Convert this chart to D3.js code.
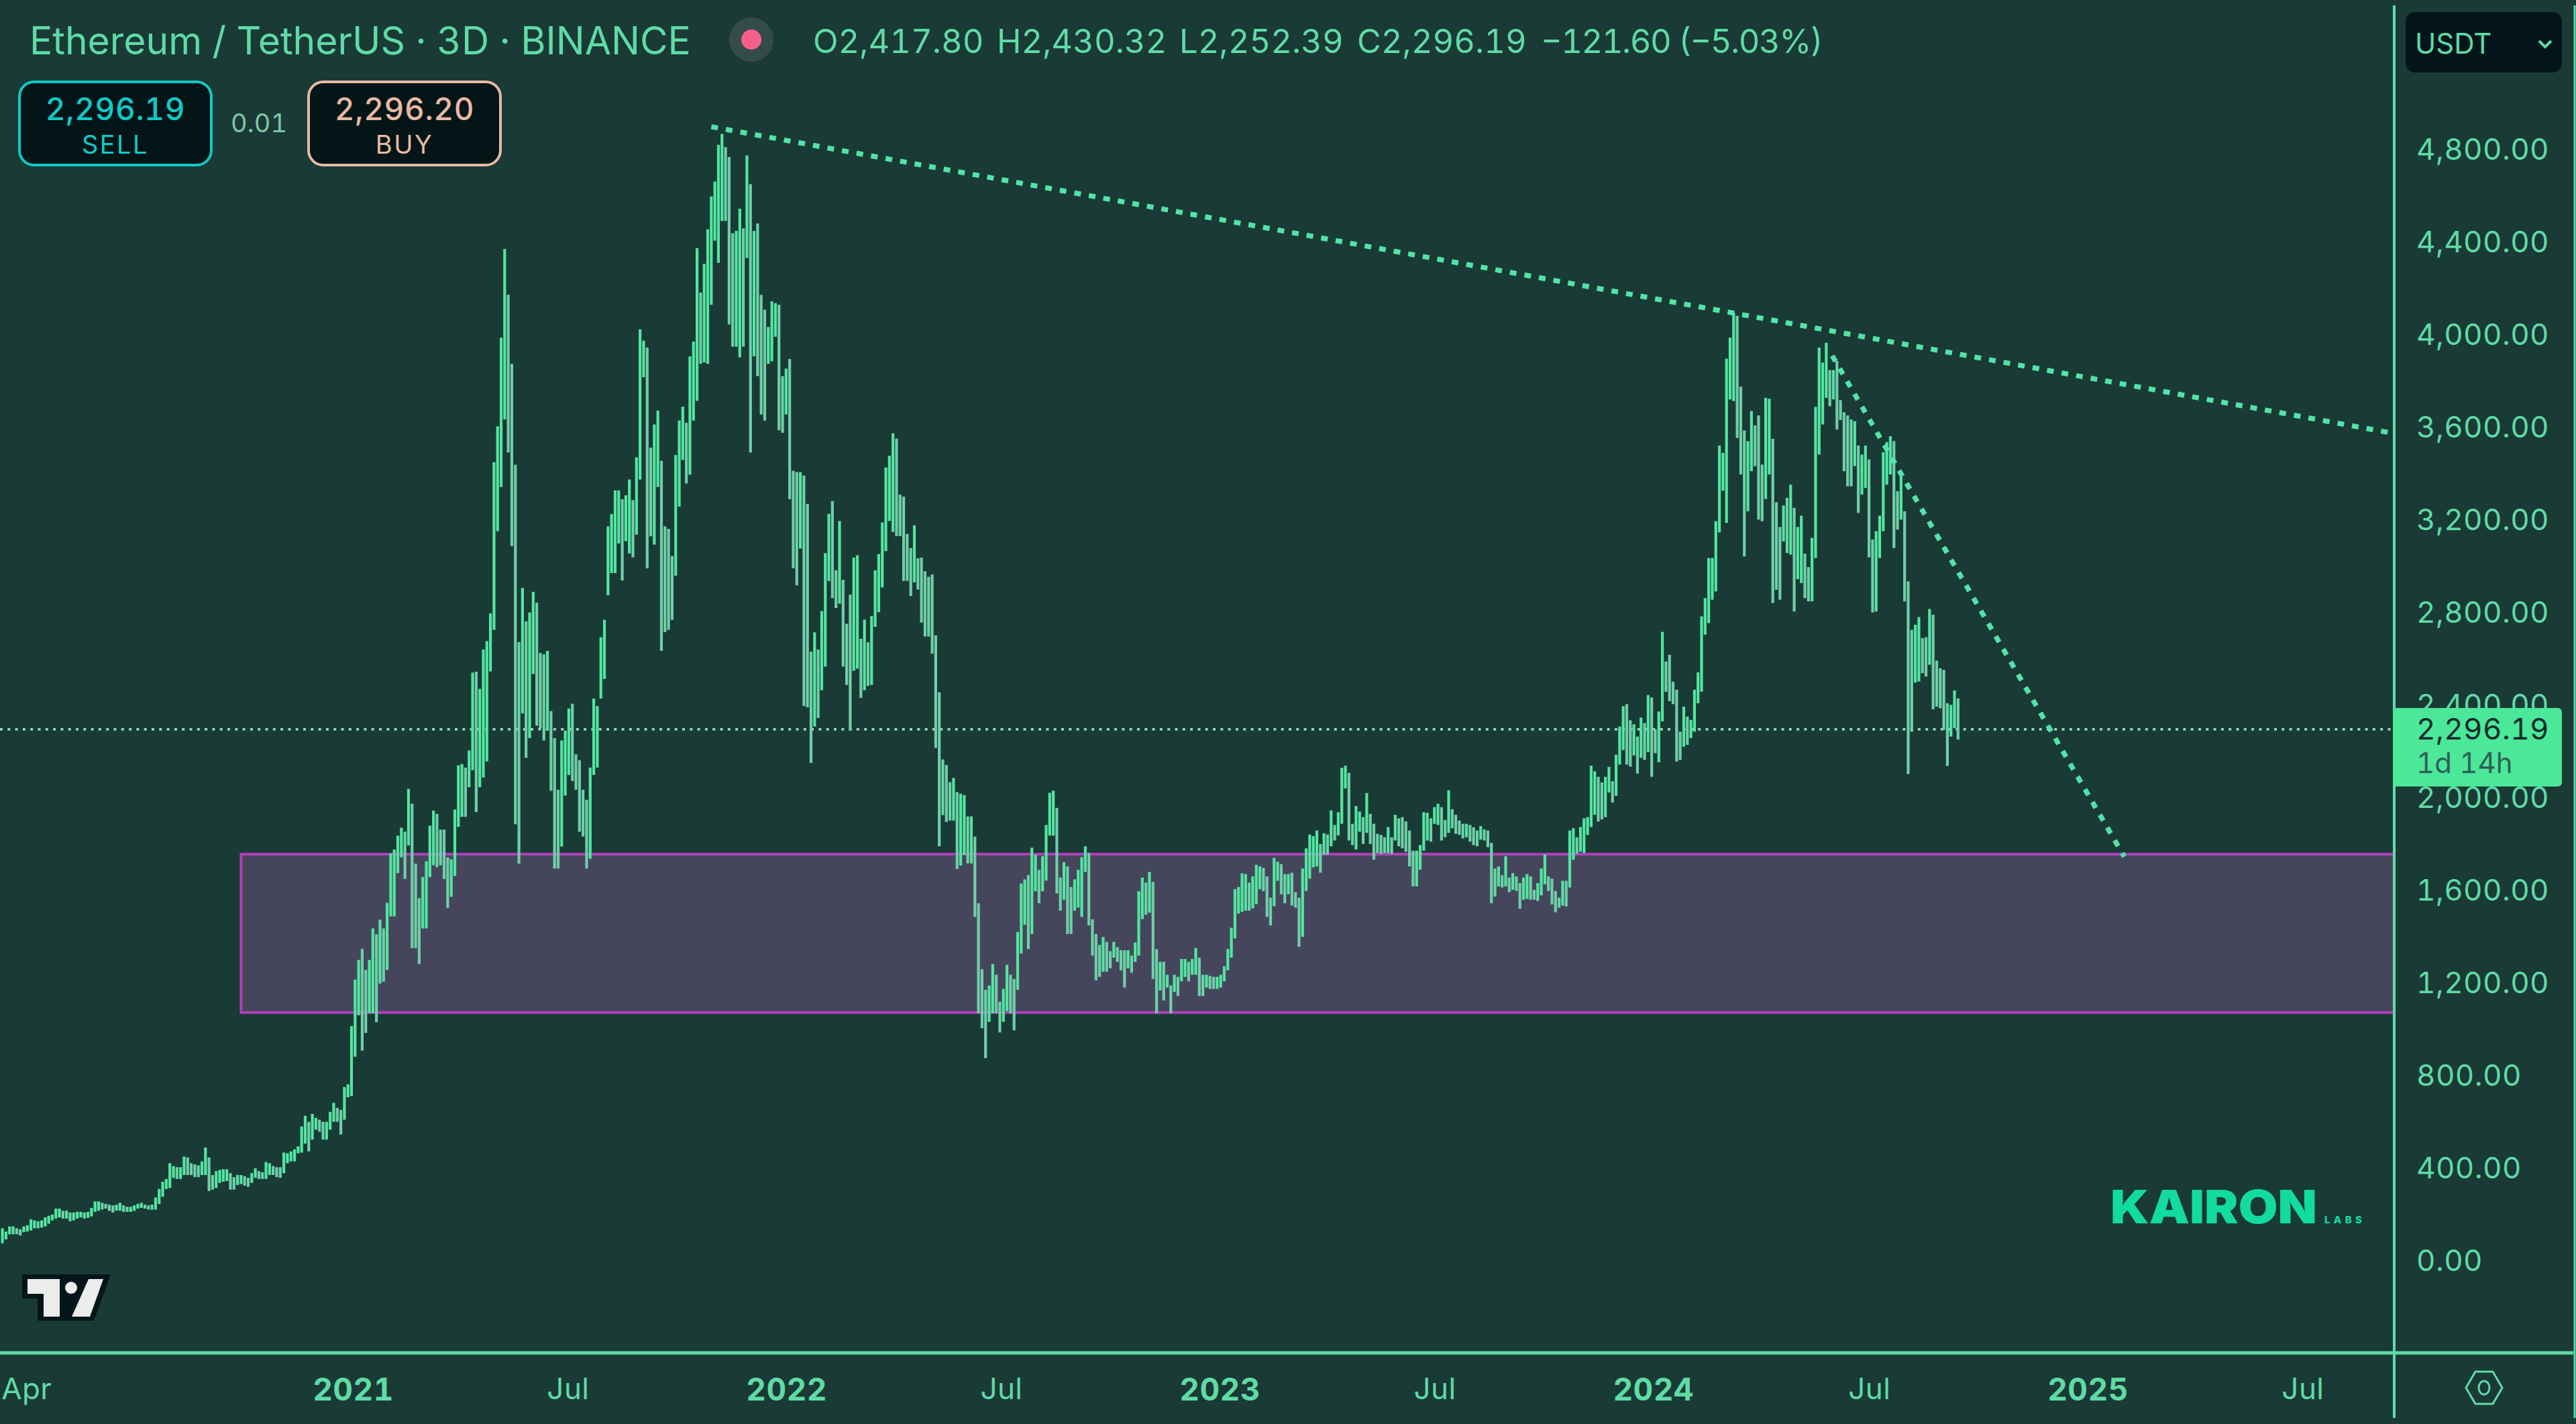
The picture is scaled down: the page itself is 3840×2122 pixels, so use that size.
<!DOCTYPE html>
<html lang="en">
<head>
  <meta charset="UTF-8">
  <title>Ethereum / TetherUS 3D</title>
  <style>
    html, body { margin: 0; padding: 0; background: #1a3a36; }
    svg { display: block; }
    text { font-family: "Inter", sans-serif; fill: #5fdba6; font-variant-numeric: tabular-nums; }
    .axis text { font-size: 44px; letter-spacing: 0.4px; }
    .axis .domain { display: none; }
  </style>
</head>
<body>
<svg id="chart" width="3840" height="2122"></svg>

<script src="https://cdnjs.cloudflare.com/ajax/libs/d3/7.8.5/d3.min.js"></script>
<script>
  "use strict";

  // 3D bars, first one opens on this date
  var firstBar = "2020-03-13";

  var highs = [
    141,127,149,149,141,137,149,154,180,175,
    171,175,188,195,200,226,226,217,217,209,
    209,212,212,209,212,229,257,257,251,246,
    243,240,243,251,240,234,234,240,246,251,
    243,240,243,274,311,342,354,422,410,405,
    405,451,447,422,417,413,430,490,447,371,
    388,393,396,396,379,362,371,371,366,359,
    379,400,388,383,427,422,410,405,405,468,
    465,473,482,495,581,627,601,635,618,610,
    601,601,644,683,661,652,751,763,1014,1215,
    1300,1348,1257,1300,1436,1411,1474,1436,1547,1760,
    1777,1837,1871,1854,2039,1975,1716,1567,1658,1726,
    1880,1945,1931,1863,1863,1743,1735,1950,2141,2146,
    2131,2205,2541,2545,2471,2641,2677,2797,3450,3605,
    3988,4371,4173,3875,3439,2673,2907,2763,2801,2890,
    2843,2626,2620,2635,2375,2258,2035,2248,2290,2386,
    2407,2188,2163,2035,1992,2131,2429,2397,2694,2769,
    3173,3226,3328,3328,3290,3307,3375,3286,3471,4024,
    3975,3945,3513,3613,3673,3456,3173,3162,3045,3481,
    3630,3690,3620,3907,3971,4375,4183,4307,4456,4598,
    4662,4821,4868,4811,4768,4439,4449,4545,4460,4775,
    4651,4449,4481,4173,4109,4034,4145,4137,4130,3822,
    3854,3896,3413,3407,3407,3392,3270,2632,2715,2641,
    2807,3057,3227,3282,2983,3196,2942,2752,2878,3038,
    3048,2687,2770,2672,2785,2983,3053,3190,3427,3478,
    3575,3552,3310,3301,3140,3079,3177,3035,3038,2979,
    2955,2965,2702,2456,2166,2142,2068,2086,2025,2018,
    2012,1920,1920,1833,1545,1260,1171,1190,1282,1236,
    1120,1175,1279,1236,1218,1421,1630,1648,1667,1785,
    1754,1689,1748,1883,2022,2031,1957,1656,1722,1704,
    1615,1648,1689,1744,1791,1763,1476,1412,1365,1399,
    1378,1338,1378,1356,1342,1342,1342,1319,1375,1597,
    1656,1634,1680,1637,1347,1292,1292,1236,1190,1236,
    1227,1304,1304,1292,1304,1352,1310,1236,1236,1231,
    1227,1227,1236,1273,1347,1439,1606,1615,1674,1671,
    1634,1661,1711,1704,1698,1661,1569,1741,1724,1714,
    1671,1671,1677,1593,1569,1695,1782,1842,1835,1859,
    1801,1847,1842,1946,1883,1938,2130,2139,2108,1888,
    1965,1941,1917,2021,1931,1888,1845,1840,1830,1874,
    1830,1927,1912,1917,1898,1859,1772,1772,1796,1938,
    1936,1912,1960,1975,1960,1905,2033,1951,1927,1902,
    1888,1888,1883,1873,1859,1878,1864,1859,1806,1695,
    1704,1666,1748,1656,1675,1661,1632,1656,1671,1661,
    1603,1632,1695,1755,1661,1651,1598,1569,1642,1642,
    1859,1869,1830,1874,1912,1917,2139,2115,2091,2067,
    2091,2134,2072,2187,2308,2396,2405,2335,2318,2265,
    2347,2323,2444,2434,2296,2373,2717,2589,2618,2502,
    2467,2286,2394,2351,2337,2467,2542,2784,2863,3036,
    3036,3195,3522,3490,3897,3988,4096,4082,3776,3587,
    3541,3671,3609,3652,3440,3728,3724,3551,3277,3170,
    3263,3296,3353,3253,3170,3219,3055,2997,3123,3689,
    3945,3880,3966,3848,3848,3887,3718,3666,3652,3635,
    3627,3522,3483,3522,3462,3116,3152,3219,3493,3537,
    3562,3541,3325,3404,3238,2935,2726,2748,2781,2690,
    2694,2816,2791,2593,2560,2553,2409,2402,2464,2430
  ];

  var lows = [
    76,93,115,115,115,110,124,127,132,141,
    141,144,149,161,175,183,188,183,183,171,
    175,183,188,183,186,192,212,217,222,226,
    216,209,217,217,212,212,212,216,226,229,
    226,222,221,222,246,277,311,315,359,354,
    354,371,371,371,362,362,371,371,302,308,
    315,337,342,345,308,308,328,332,325,320,
    337,359,354,354,354,371,371,362,359,379,
    422,430,430,465,468,507,473,524,567,558,
    524,524,567,601,601,546,610,707,712,882,
    1061,908,985,1070,1070,1031,1198,1206,1257,1488,
    1488,1675,1743,1650,1795,1351,1351,1283,1436,1436,
    1658,1709,1701,1709,1650,1525,1573,1663,1875,1918,
    1918,2046,2120,1939,2046,2088,2158,2546,2726,3152,
    3343,3635,3492,3088,1886,1716,2365,2173,2258,2535,
    2312,2301,2248,2290,2031,1695,1695,1790,2010,2099,
    2073,2035,1854,1833,1695,1737,2099,2131,2429,2514,
    2875,2971,2971,3099,2939,3109,3056,3039,3137,3375,
    3817,2992,3130,3094,3343,2635,2716,2726,2769,2960,
    3258,3460,3358,3396,3630,3715,3875,3881,3875,4130,
    4407,4311,4492,4492,4045,3949,3949,3903,3949,4332,
    3492,3907,3822,3656,3630,3875,3886,3992,3588,3577,
    3656,3290,2992,2918,3077,2397,2391,2151,2308,2345,
    2465,2567,2937,2863,2820,2839,2567,2488,2290,2549,
    2558,2432,2465,2484,2488,2739,2802,2909,3066,3196,
    3149,3131,3131,2937,2937,2872,2931,2900,2757,2697,
    2697,2623,2216,1791,1926,1896,1902,1902,1693,1708,
    1754,1717,1717,1486,1070,1005,876,1033,1070,1070,
    987,1033,1079,1070,996,1171,1328,1452,1347,1412,
    1597,1545,1597,1643,1837,1837,1587,1513,1560,1412,
    1412,1513,1526,1486,1680,1449,1319,1212,1227,1249,
    1249,1264,1310,1292,1255,1181,1264,1245,1292,1319,
    1476,1495,1504,1218,1070,1168,1125,1181,1070,1162,
    1144,1208,1227,1208,1236,1236,1144,1144,1181,1175,
    1175,1175,1181,1208,1255,1310,1393,1500,1508,1513,
    1513,1523,1541,1606,1597,1486,1449,1532,1642,1584,
    1545,1584,1535,1526,1357,1400,1598,1651,1700,1704,
    1677,1755,1755,1791,1816,1838,1888,2041,1816,1796,
    1777,1854,1801,1849,1801,1733,1762,1758,1762,1762,
    1758,1816,1791,1782,1767,1704,1618,1618,1690,1772,
    1816,1811,1888,1883,1816,1830,1849,1869,1845,1840,
    1825,1830,1811,1796,1791,1820,1816,1787,1545,1574,
    1618,1613,1618,1593,1603,1598,1521,1560,1564,1560,
    1560,1555,1579,1627,1598,1540,1506,1526,1535,1531,
    1613,1733,1758,1767,1762,1840,1874,1927,1898,1907,
    1917,2023,1980,2009,2144,2207,2144,2135,2183,2105,
    2173,2164,2198,2091,2193,2154,2331,2458,2418,2405,
    2157,2164,2221,2229,2258,2286,2409,2459,2705,2755,
    2856,2892,3147,3327,3188,3721,3714,3555,3397,3043,
    3238,3411,3433,3202,3195,3291,3397,2842,2899,2856,
    3108,3058,3051,2805,2945,2928,2863,2849,2849,3036,
    3483,3613,3728,3692,3721,3591,3632,3411,3346,3346,
    3433,3231,3310,3339,3039,2801,2805,3036,3152,3353,
    3397,3079,3159,3202,2849,2103,2286,2498,2503,2539,
    2524,2575,2383,2394,2387,2293,2138,2265,2301,2252
  ];

  var priceTicks = [0,400,800,1200,1600,2000,2400,2800,3200,3600,4000,4400,4800];

  var timeTicks = ["2020-04-01","2021-01-01","2021-07-01","2022-01-01","2022-07-01","2023-01-01",
                   "2023-07-01","2024-01-01","2024-07-01","2025-01-01","2025-07-01"];
  var timeLabels = ["Apr","2021","Jul","2022","Jul","2023","Jul","2024","Jul","2025","Jul"];

  var lastPrice = 2296.19;

  // resistance lines: [date, price]
  var trendLong = [["2021-10-31",4899],["2025-09-14",3577]];
  var trendShort = [["2024-06-01",3910],["2025-02-02",1746]];

  var zoneFrom = "2020-09-30", zoneTop = 1757, zoneBottom = 1073;

  var parse = d3.utcParse("%Y-%m-%d");

  var W = 3840, H = 2122;
  var plotRight = 3569, plotBottom = 2016;

  var svg = d3.select("#chart");

  var x = d3.scaleUtc()
    .domain([parse("2021-01-01"), parse("2025-01-01")])
    .range([524, 3110]);

  var y = d3.scaleLinear()
    .domain([0, 4800])
    .range([1879, 223]);

  svg.append("defs").append("clipPath").attr("id", "plotClip")
    .append("rect").attr("width", plotRight).attr("height", plotBottom);

  svg.append("rect").attr("width", W).attr("height", H).attr("fill", "#1a3a36");

  var inner = svg.append("g").attr("clip-path", "url(#plotClip)");

  // purple zone
  inner.append("rect")
    .attr("x", x(parse(zoneFrom)))
    .attr("y", y(zoneTop))
    .attr("width", plotRight + 10 - x(parse(zoneFrom)))
    .attr("height", y(zoneBottom) - y(zoneTop))
    .attr("fill", "#45465c")
    .attr("stroke", "#b23fbd")
    .attr("stroke-width", 4);

  // last price line
  inner.append("line")
    .attr("x1", 0).attr("x2", plotRight)
    .attr("y1", y(lastPrice)).attr("y2", y(lastPrice))
    .attr("stroke", "#9fdcc4")
    .attr("stroke-width", 3.5)
    .attr("stroke-dasharray", "4 7.3");

  // bars
  var bars = highs.map(function(h, i) {
    return { date: d3.utcDay.offset(parse(firstBar), i * 3), high: h, low: lows[i], i: i };
  });

  function mid(d) { return (d.high + d.low) / 2; }

  inner.selectAll("rect.bar")
    .data(bars)
    .enter()
    .append("rect")
    .attr("class", "bar")
    .attr("x", function(d) { return x(d.date) - 2.1; })
    .attr("y", function(d) { return y(d.high); })
    .attr("width", 4.2)
    .attr("height", function(d) { return y(d.low) - y(d.high); })
    .attr("fill", function(d) {
      if (d.i > 0 && mid(d) < mid(bars[d.i - 1])) return "#6fcfa8";
      return "#52e6a0";
    });

  // trend lines
  var trendLine = d3.line()
    .x(function(d) { return x(parse(d[0])); })
    .y(function(d) { return y(d[1]); });

  [trendLong, trendShort].forEach(function(t) {
    inner.append("path")
      .attr("d", trendLine(t))
      .attr("fill", "none")
      .attr("stroke", "#52e3a8")
      .attr("stroke-width", 7.5)
      .attr("stroke-dasharray", "10 12");
  });

  // axes
  svg.append("g")
    .attr("class", "axis")
    .attr("transform", "translate(3602,0)")
    .call(d3.axisRight(y).tickValues(priceTicks).tickSize(0).tickPadding(0)
      .tickFormat(d3.format(",.2f")));

  var timeAxis = d3.axisBottom(x)
    .tickValues(timeTicks.map(parse))
    .tickSize(0)
    .tickPadding(0)
    .tickFormat(function(d, i) { return timeLabels[i]; });

  svg.append("g")
    .attr("class", "axis")
    .attr("transform", "translate(2,2054)")
    .call(timeAxis)
    .selectAll("text")
    .attr("font-weight", function(d, i) { return /^\d/.test(timeLabels[i]) ? 700 : 400; })
    .style("font-size", function(d, i) { return /^\d/.test(timeLabels[i]) ? "46px" : "44px"; });

  // frame lines
  svg.append("line").attr("x1", 0).attr("x2", 3836).attr("y1", plotBottom).attr("y2", plotBottom)
    .attr("stroke", "#5fdcab").attr("stroke-width", 5);
  svg.append("line").attr("x1", plotRight).attr("x2", plotRight).attr("y1", 8).attr("y2", 2113)
    .attr("stroke", "#5fdcab").attr("stroke-width", 4);
  svg.append("line").attr("x1", 3838).attr("x2", 3838).attr("y1", 8).attr("y2", 2113)
    .attr("stroke", "#5fdcab").attr("stroke-width", 3);

  // last price tag
  svg.append("rect")
    .attr("x", plotRight - 2).attr("y", 1055).attr("width", 252).attr("height", 117)
    .attr("rx", 6).attr("fill", "#4be899");
  svg.append("text").attr("x", 3602).attr("y", y(lastPrice) + 15)
    .attr("font-size", 44).style("letter-spacing", "0.4px").style("fill", "#0c2a2c")
    .text(d3.format(",.2f")(lastPrice));
  svg.append("text").attr("x", 3602).attr("y", 1152)
    .attr("font-size", 42).style("fill", "#2f5f58").text("1d 14h");

  // header
  svg.append("text").attr("x", 44).attr("y", 81).attr("font-size", 57)
    .text("Ethereum / TetherUS · 3D · BINANCE");
  svg.append("circle").attr("cx", 1120).attr("cy", 59).attr("r", 33).attr("fill", "#344c49");
  svg.append("circle").attr("cx", 1120).attr("cy", 59).attr("r", 15).attr("fill", "#f65f88");

  var ohlcText = ["O2,417.80", "H2,430.32", "L2,252.39", "C2,296.19", "−121.60 (−5.03%)"];
  var ohlcLeft = [1212, 1486, 1758, 2023, 2297];
  svg.selectAll("text.ohlc")
    .data(ohlcText)
    .enter()
    .append("text")
    .attr("class", "ohlc")
    .attr("x", function(d, i) { return ohlcLeft[i]; })
    .attr("y", 79)
    .attr("font-size", 49)
    .attr("textLength", function(d, i) { return i === 4 ? 421 : null; })
    .text(function(d) { return d; });

  // sell / buy buttons
  function tradeButton(left, color, price, label) {
    svg.append("rect")
      .attr("x", left).attr("y", 122).attr("width", 286).attr("height", 124)
      .attr("rx", 22).attr("fill", "#041517")
      .attr("stroke", color).attr("stroke-width", 4);
    svg.append("text").attr("x", left + 143).attr("y", 179)
      .attr("text-anchor", "middle").attr("font-size", 46).attr("font-weight", 500)
      .style("letter-spacing", "0.6px")
      .style("fill", color).text(price);
    svg.append("text").attr("x", left + 143).attr("y", 229)
      .attr("text-anchor", "middle").attr("font-size", 38)
      .style("letter-spacing", "2.5px")
      .style("fill", color).text(label);
  }
  tradeButton(29, "#10c9c6", "2,296.19", "SELL");
  tradeButton(460, "#e8b9a4", "2,296.20", "BUY");
  svg.append("text").attr("x", 386).attr("y", 197).attr("text-anchor", "middle")
    .attr("font-size", 38).style("fill", "#7fc7a5").text("0.01");

  // currency box
  svg.append("rect").attr("x", 3586).attr("y", 18).attr("width", 233).attr("height", 90)
    .attr("rx", 14).attr("fill", "#03151a");
  svg.append("text").attr("x", 3600).attr("y", 80).attr("font-size", 42).text("USDT");
  svg.append("path").attr("d", "M3785,61 L3794,70 L3803,61")
    .attr("fill", "none").attr("stroke", "#5fdba6").attr("stroke-width", 4);

  // tradingview logo
  svg.append("path")
    .attr("d", "M33,1899 H165 L140,1968 H56 V1935 H33 Z")
    .attr("fill", "#04161a");
  svg.append("path")
    .attr("d", "M41,1906 H89 V1962 H65 V1928 H41 Z M132,1906 H154 L134,1962 H107 Z")
    .attr("fill", "#ececec");
  svg.append("circle").attr("cx", 106).attr("cy", 1919).attr("r", 9).attr("fill", "#ececec");

  // kairon logo
  svg.append("text").attr("x", 3146).attr("y", 1823)
    .attr("font-size", 69).attr("font-weight", 900)
    .attr("textLength", 308).attr("lengthAdjust", "spacingAndGlyphs")
    .style("fill", "#12dba0").text("KAIRON");
  svg.append("text").attr("x", 3465).attr("y", 1823)
    .attr("font-size", 15).attr("font-weight", 800)
    .attr("textLength", 56)
    .style("fill", "#12dba0").text("LABS");

  // settings icon
  svg.append("path")
    .attr("d", "M3676,2068 L3690,2044 H3716 L3730,2068 L3716,2092 H3690 Z")
    .attr("fill", "none").attr("stroke", "#5fdba6").attr("stroke-width", 3);
  svg.append("ellipse").attr("cx", 3703).attr("cy", 2068).attr("rx", 8).attr("ry", 10)
    .attr("fill", "none").attr("stroke", "#5fdba6").attr("stroke-width", 3);
</script>
</body>
</html>
